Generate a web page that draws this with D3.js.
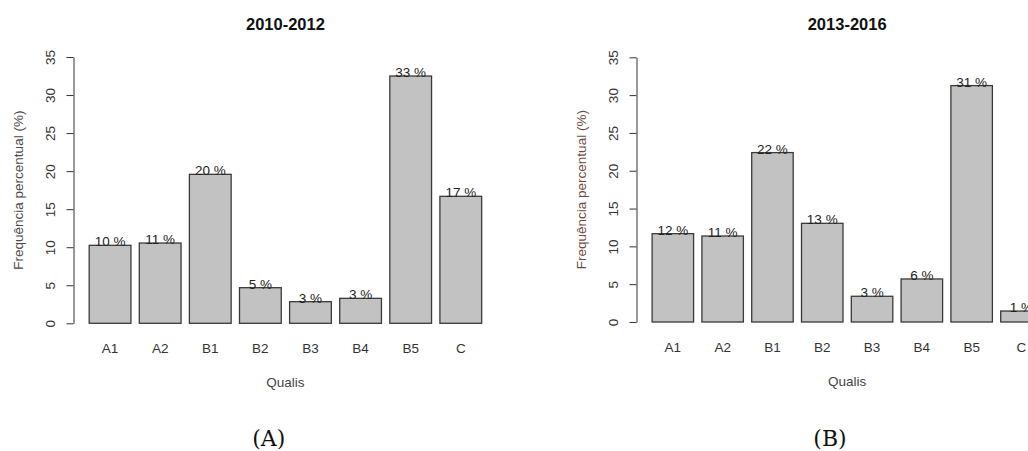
<!DOCTYPE html>
<html>
<head>
<meta charset="utf-8">
<script src="https://cdn.jsdelivr.net/npm/d3@7"></script>
<style>
	body { margin: 0; background: #fff; }
	svg { display: block; }
	.tick text { font-family: "Liberation Sans", Arial, sans-serif; font-size: 13.5px; fill: #333; }
</style>
</head>
<body>
<svg id="chart" width="1028" height="451"></svg>
<script>
// categories and values (percent)
let categories = ['A1', 'A2', 'B1', 'B2', 'B3', 'B4', 'B5', 'C'];
let values2010 = [10.25, 10.55, 19.58, 4.68, 2.84, 3.28, 32.5, 16.69];
let values2013 = [11.68, 11.37, 22.4, 13.05, 3.4, 5.69, 31.26, 1.45];
let yTicks = [0, 5, 10, 15, 20, 25, 30, 35];
let titles = ['2010-2012', '2013-2016'];
let captions = ['(A)', '(B)'];

let chart = d3.select('#chart');

// draws one R-style barplot panel
function drawPanel(values, title, caption, opt) {

	let g = chart.append('g');

	// bar width 1, space 0.2, plus the 4% margin R adds on each side
	let xScale = d3.scaleBand()
		.domain(categories)
		.range([opt.axisX, opt.axisX + opt.step * 8.46])
		.paddingInner(1 / 6)
		.paddingOuter(0.3133);

	let yScale = d3.scaleLinear()
		.domain([0, 35])
		.range([opt.y0, opt.y35]);

	// bars
	g.selectAll('rect')
		.data(values)
		.enter()
		.append('rect')
		.attr('x', (d, i) => xScale(categories[i]))
		.attr('y', (d) => yScale(d))
		.attr('width', xScale.bandwidth())
		.attr('height', (d) => yScale(0) - yScale(d))
		.attr('fill', '#c2c2c2')
		.attr('stroke', '#3a3a3a')
		.attr('stroke-width', 1.3);

	// percentage labels sitting on the bar tops
	g.selectAll('.pct')
		.data(values)
		.enter()
		.append('text')
		.attr('class', 'pct')
		.attr('x', (d, i) => xScale(categories[i]) + xScale.bandwidth() / 2)
		.attr('y', (d) => yScale(d) + 1)
		.attr('text-anchor', 'middle')
		.style('font-family', '"Liberation Sans", Arial, sans-serif')
		.style('font-size', '13.5px')
		.style('fill', '#222')
		.text((d) => Math.round(d) + ' %');

	// y axis, labels parallel to the axis like R
	let yAxis = d3.axisLeft(yScale)
		.tickValues(yTicks)
		.tickSize(7)
		.tickSizeOuter(0);

	let yAxisGroup = g.append('g')
		.attr('transform', `translate(${opt.axisX},0)`)
		.call(yAxis);

	yAxisGroup.select('.domain').attr('stroke', '#333');
	yAxisGroup.selectAll('.tick line').attr('stroke', '#333');
	yAxisGroup.selectAll('.tick text')
		.attr('x', 0)
		.attr('y', -18.5)
		.attr('dy', 0)
		.attr('transform', 'rotate(-90)')
		.attr('text-anchor', 'middle');

	// category labels, no axis line (R barplot)
	g.selectAll('.cat')
		.data(categories)
		.enter()
		.append('text')
		.attr('class', 'cat')
		.attr('x', (d) => xScale(d) + xScale.bandwidth() / 2)
		.attr('y', opt.y0 + 29.6)
		.attr('text-anchor', 'middle')
		.style('font-family', '"Liberation Sans", Arial, sans-serif')
		.style('font-size', '13.5px')
		.style('fill', '#333')
		.text((d) => d);

	let midX = (xScale.range()[0] + xScale.range()[1]) / 2;

	// title
	g.append('text')
		.attr('x', midX)
		.attr('y', 30)
		.attr('text-anchor', 'middle')
		.style('font-family', '"Liberation Sans", Arial, sans-serif')
		.style('font-size', '16.5px')
		.style('font-weight', 'bold')
		.style('fill', '#111')
		.text(title);

	// x label
	g.append('text')
		.attr('x', midX)
		.attr('y', opt.y0 + 63.5)
		.attr('text-anchor', 'middle')
		.style('font-family', '"Liberation Sans", Arial, sans-serif')
		.style('font-size', '13.5px')
		.style('fill', '#444')
		.text('Qualis');

	// y label
	g.append('text')
		.attr('transform', `translate(${opt.axisX - 51},${(opt.y0 + opt.y35) / 2}) rotate(-90)`)
		.attr('text-anchor', 'middle')
		.style('font-family', '"Liberation Sans", Arial, sans-serif')
		.style('font-size', '13.5px')
		.style('fill', opt.ylabColor)
		.text('Frequência percentual (%)');

	// caption under the panel
	g.append('text')
		.attr('x', opt.capX)
		.attr('y', 446)
		.attr('text-anchor', 'middle')
		.style('font-family', '"DejaVu Serif", serif')
		.style('font-size', '22px')
		.style('fill', '#111')
		.text(caption);
}

drawPanel(values2010, titles[0], captions[0], {
	axisX: 73.5, y0: 323.3, y35: 57, step: 50.1, capX: 268.7, ylabColor: '#4a4a4a'
});

drawPanel(values2013, titles[1], captions[1], {
	axisX: 636.5, y0: 322, y35: 57.3, step: 49.8, capX: 830, ylabColor: '#6e4a40'
});
</script>
</body>
</html>
